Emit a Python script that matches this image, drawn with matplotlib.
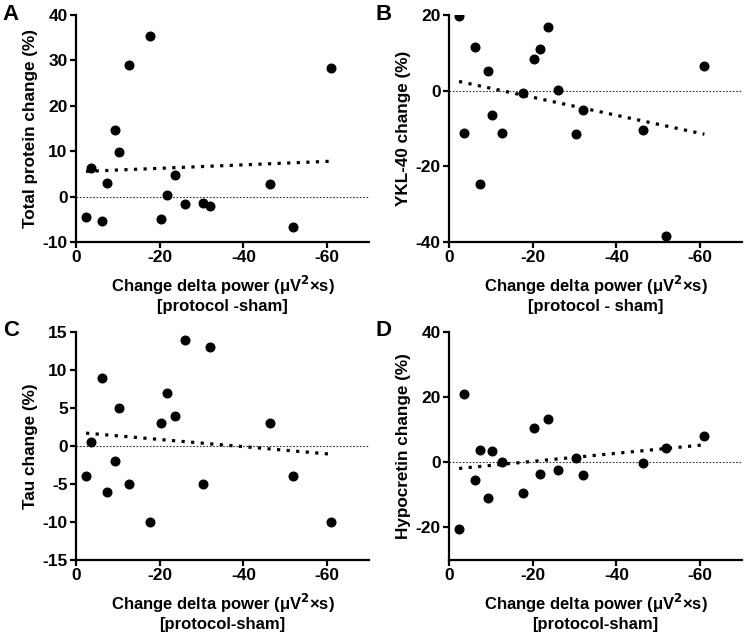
import numpy as np
import matplotlib
matplotlib.use('Agg')
import matplotlib.pyplot as plt

plt.rcParams['font.family'] = ['Liberation Sans', 'DejaVu Sans']
plt.rcParams['font.weight'] = 'bold'
plt.rcParams['axes.unicode_minus'] = False

# change in delta power per subject (protocol - sham), shared by all panels
delta_power = [-2.4, -3.5, -6.1, -7.5, -9.3, -10.2, -12.6, -17.7, -20.3,
               -21.8, -23.6, -26.1, -30.3, -32.1, -46.3, -51.9, -61.0]

total_protein = [-4.5, 6.3, -5.4, 3.0, 14.7, 9.9, 28.9, 35.3, -4.9,
                 0.3, 4.7, -1.7, -1.4, -2.1, 2.8, -6.6, 28.3]
ykl40 = [19.8, -11.3, 11.6, -24.8, 5.2, -6.5, -11.3, -0.5, 8.3,
         11.1, 16.8, 0.2, -11.4, -5.0, -10.3, -38.3, 6.5]
tau = [-4.0, 0.5, 9.0, -6.0, -2.0, 5.0, -5.0, -10.0, 3.0,
       7.0, 4.0, 14.0, -5.0, 13.0, 3.0, -4.0, -10.0]
hypocretin = [-20.4, 20.8, -5.5, 3.9, -11.0, 3.6, 0.0, -9.5, 10.6,
              -3.6, 13.4, -2.4, 1.4, -3.8, -0.3, 4.5, 8.2]

panels = [
    ('A', total_protein, 'Total protein change (%)', '[protocol -sham]', (-10, 40), [-10, 0, 10, 20, 30, 40]),
    ('B', ykl40, 'YKL-40 change (%)', '[protocol - sham]', (-40, 20), [-40, -20, 0, 20]),
    ('C', tau, 'Tau change (%)', '[protocol-sham]', (-15, 15), [-15, -10, -5, 0, 5, 10, 15]),
    ('D', hypocretin, 'Hypocretin change (%)', '[protocol-sham]', (-30, 40), [-20, 0, 20, 40]),
]

positions = [
    [0.1019, 0.6213, 0.3928, 0.3552],
    [0.6019, 0.6213, 0.3928, 0.3552],
    [0.1019, 0.1236, 0.3928, 0.3570],
    [0.6019, 0.1236, 0.3928, 0.3570],
]

fig = plt.figure(figsize=(7.46, 6.39), dpi=100)
x = np.array(delta_power)

for (letter, vals, ylabel, sub, ylim, yticks), pos in zip(panels, positions):
    ax = fig.add_axes(pos)
    y = np.array(vals)

    ax.axhline(0, color='#333333', lw=0.8, ls=(0, (1.5, 1.5)), zorder=1)

    # linear regression line
    slope, intercept = np.polyfit(x, y, 1)
    xs = np.array([x.max(), x.min()])
    ax.plot(xs, slope * xs + intercept, color='black', lw=2.3,
            ls=(0, (1, 2)), zorder=2)

    ax.plot(x, y, 'o', color='black', ms=6.2, zorder=3)

    ax.set_xlim(0, -70)
    ax.set_ylim(*ylim)
    ax.set_xticks([0, -20, -40, -60])
    ax.set_yticks(yticks)
    for s in ['top', 'right']:
        ax.spines[s].set_visible(False)
    for s in ['left', 'bottom']:
        ax.spines[s].set_linewidth(1.6)
    ax.tick_params(width=1.6, length=4, labelsize=12.5, pad=2)
    for lab in ax.get_xticklabels() + ax.get_yticklabels():
        lab.set_fontweight('bold')

    ax.set_ylabel(ylabel, fontsize=12.3, fontweight='bold', labelpad=3)
    ax.set_xlabel('Change delta power (\u03bcV$^{\\mathbf{2}}$\u00d7s)\n' + sub,
                  fontsize=12, fontweight='bold', labelpad=6, linespacing=1.2)

    fig.text(pos[0] - 0.098, pos[1] + pos[3] + 0.018, letter, fontsize=16,
             fontweight='bold', va='top', ha='left')

fig.savefig('out.png', dpi=100)
